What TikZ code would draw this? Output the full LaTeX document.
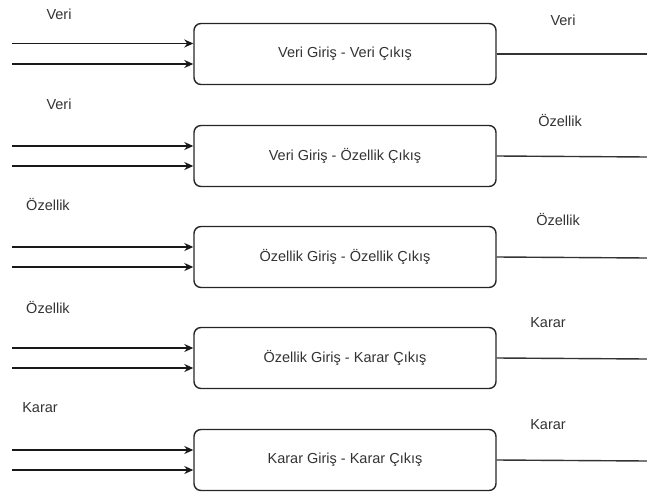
\documentclass[tikz,border=0pt]{standalone}
\usepackage{fontspec}
\setmainfont{Liberation Sans}
\usetikzlibrary{arrows.meta}
\begin{document}
\begin{tikzpicture}[x=1pt,y=-1pt,
  font=\fontsize{14.5}{17}\selectfont,
  katman/.style={draw=black!85,line width=1.4pt,rounded corners=7pt,minimum width=302pt,minimum height=61pt,text=black!80},
  giris/.style={draw=black!90,line width=1.4pt,-{Stealth[length=9pt,width=8pt]}},
  cikis/.style={draw=black!80,line width=1.4pt},
  etiket/.style={text=black!80}]
\useasboundingbox (0,0) rectangle (647,492);
\node[katman] (box1) at (345,54) {Veri Giriş - Veri Çıkış};
\node[katman] (box2) at (345,156) {Veri Giriş - Özellik Çıkış};
\node[katman] (box3) at (345,257) {Özellik Giriş - Özellik Çıkış};
\node[katman] (box4) at (345,358) {Özellik Giriş - Karar Çıkış};
\node[katman] (box5) at (345,460) {Karar Giriş - Karar Çıkış};
\node[etiket] (in1) at (59,14) {Veri};
\node[etiket] (in2) at (59,104) {Veri};
\node[etiket] (in3) at (48,205) {Özellik};
\node[etiket] (in4) at (48,307) {Özellik};
\node[etiket] (in5) at (40,408) {Karar};
\node[etiket] (out1) at (563,20) {Veri};
\node[etiket] (out2) at (560,121) {Özellik};
\node[etiket] (out3) at (558,220) {Özellik};
\node[etiket] (out4) at (548,323) {Karar};
\node[etiket] (out5) at (548,425) {Karar};
\coordinate (a1) at (12,43.5);
\coordinate (b1) at (12,64);
\coordinate (a2) at (12,146);
\coordinate (b2) at (12,166);
\coordinate (a3) at (12,247);
\coordinate (b3) at (12,267);
\coordinate (a4) at (12,348);
\coordinate (b4) at (12,368);
\coordinate (a5) at (12,450);
\coordinate (b5) at (12,470);
\coordinate (e1) at (647,54);
\coordinate (e2) at (647,157);
\coordinate (e3) at (647,258);
\coordinate (e4) at (647,359);
\coordinate (e5) at (647,461);
\draw[giris] (a1) -- (a1 -| box1.west);
\draw[giris] (b1) -- (b1 -| box1.west);
\draw[giris] (a2) -- (a2 -| box2.west);
\draw[giris] (b2) -- (b2 -| box2.west);
\draw[giris] (a3) -- (a3 -| box3.west);
\draw[giris] (b3) -- (b3 -| box3.west);
\draw[giris] (a4) -- (a4 -| box4.west);
\draw[giris] (b4) -- (b4 -| box4.west);
\draw[giris] (a5) -- (a5 -| box5.west);
\draw[giris] (b5) -- (b5 -| box5.west);
\draw[cikis] (box1.east) -- (e1);
\draw[cikis] (box2.east) -- (e2);
\draw[cikis] (box3.east) -- (e3);
\draw[cikis] (box4.east) -- (e4);
\draw[cikis] (box5.east) -- (e5);
\end{tikzpicture}
\end{document}
